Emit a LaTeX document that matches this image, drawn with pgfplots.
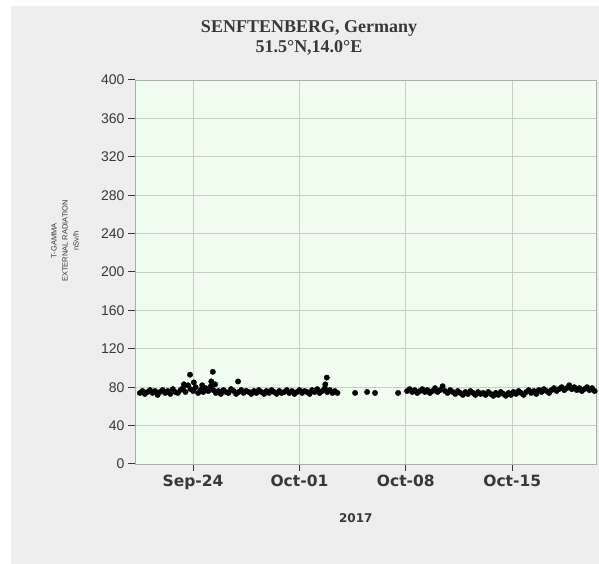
\documentclass[border=0pt]{standalone}
\usepackage{pgfplots}
\pgfplotsset{compat=1.18}
\usepackage{fontspec}
\setmainfont{Liberation Serif}
\newfontfamily\ticksans{Liberation Sans}
\newfontfamily\boldsans{DejaVu Sans}
\definecolor{panelgray}{HTML}{EEEEEE}
\definecolor{plotbg}{HTML}{F0FEF0}
\definecolor{gridc}{HTML}{C4D2C4}
\definecolor{txt}{HTML}{383838}

% hourly-ish T-GAMMA readings, x = day of month counted from Sep 1 (Oct 1 = 31)
\begin{document}
\begin{tikzpicture}
\useasboundingbox (0pt,0pt) rectangle (599pt,564pt);
\fill[white] (0pt,0pt) rectangle (599pt,564pt);
\fill[panelgray] (11pt,0pt) rectangle (599pt,558pt);
\node[font=\fontsize{18}{20}\selectfont\bfseries, text=txt, align=center]
  at (309pt,526pt) {SENFTENBERG, Germany\\51.5°N,14.0°E};
\begin{axis}[
  at={(135pt,100pt)}, anchor=south west,
  scale only axis, width=461pt, height=384pt,
  xmin=20.18, xmax=50.51, ymin=0, ymax=400,
  xtick={24,31,38,45},
  xticklabels={Sep-24,Oct-01,Oct-08,Oct-15},
  ytick={0,40,...,400},
  /pgf/number format/assume math mode=true,
  axis background/.style={fill=plotbg},
  grid=major,
  major grid style={gridc, line width=0.8pt},
  axis line style={gridc!85!black, line width=0.8pt},
  tick align=outside, tick pos=left,
  major tick length=7pt,
  every tick/.style={txt, line width=1pt},
  yticklabel style={font=\ticksans\fontsize{14}{14}\selectfont, text=txt},
  xticklabel style={font=\boldsans\bfseries\fontsize{15.5}{16}\selectfont, text=txt},
  xlabel={2017},
  xlabel style={font=\boldsans\bfseries\fontsize{12}{12}\selectfont, text=txt,
    at={(axis description cs:0.479,-0.14)}, anchor=center},
  ylabel={T-GAMMA\\EXTERNAL RADIATION\\nSv/h},
  ylabel style={align=center, font=\ticksans\fontsize{7.5}{11}\selectfont, text=txt,
    at={(axis description cs:-0.152,0.581)}, anchor=center},
]
\addplot[only marks, mark=*, mark size=2.7pt, draw=black, fill=black] table {
x y
20.50 74
20.67 76
20.83 73
21.00 75
21.17 77
21.33 74
21.50 76
21.67 72
21.83 75
22.00 77
22.17 74
22.33 76
22.50 73
22.67 78
22.83 75
23.00 74
23.17 77
23.33 79
23.40 83
23.50 75
23.67 82
23.80 93
23.83 78
24.00 76
24.05 85
24.17 80
24.33 74
24.50 77
24.60 82
24.67 75
24.83 79
25.00 76
25.17 81
25.20 86
25.30 96
25.33 77
25.45 83
25.50 74
25.67 76
25.83 73
26.00 77
26.17 75
26.33 74
26.50 78
26.67 76
26.83 73
26.96 86
27.00 75
27.17 77
27.33 74
27.50 76
27.67 75
27.83 73
28.00 76
28.17 74
28.33 77
28.50 75
28.67 73
28.83 76
29.00 74
29.17 77
29.33 75
29.50 73
29.67 76
29.83 74
30.00 75
30.17 77
30.33 74
30.50 76
30.67 73
30.83 75
31.00 77
31.17 74
31.33 76
31.50 75
31.67 73
31.83 77
32.00 75
32.17 78
32.33 74
32.50 76
32.67 79
32.70 83
32.80 90
32.83 75
33.00 77
33.17 74
33.33 76
33.50 74
34.66 74
35.45 75
35.97 74
37.49 74
38.08 76
38.25 78
38.42 75
38.58 77
38.75 74
38.92 76
39.08 78
39.25 75
39.42 77
39.58 74
39.75 76
39.92 79
40.08 75
40.25 77
40.42 81
40.58 76
40.75 74
40.92 77
41.08 75
41.25 73
41.42 76
41.58 74
41.75 72
41.92 75
42.08 73
42.25 76
42.42 74
42.58 72
42.75 75
42.92 73
43.08 74
43.25 72
43.42 75
43.58 73
43.75 71
43.92 74
44.08 72
44.25 75
44.42 73
44.58 71
44.75 74
44.92 72
45.08 75
45.25 73
45.42 76
45.58 74
45.75 72
45.92 75
46.08 77
46.25 74
46.42 76
46.58 73
46.75 77
46.92 75
47.08 78
47.25 76
47.42 74
47.58 77
47.75 79
47.92 76
48.08 78
48.25 80
48.42 77
48.58 79
48.75 82
48.92 78
49.08 80
49.25 77
49.42 79
49.58 76
49.75 78
49.92 80
50.08 77
50.25 79
50.42 76
};
\end{axis}
\end{tikzpicture}
\end{document}
